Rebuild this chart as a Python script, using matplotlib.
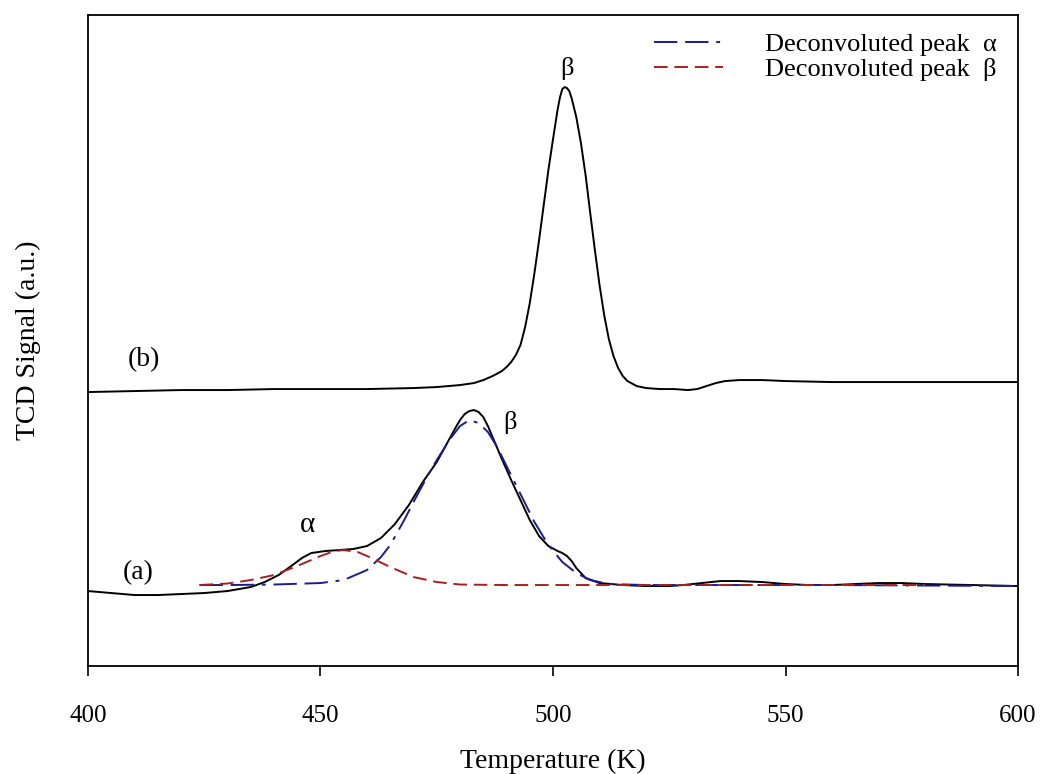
import matplotlib.pyplot as plt

plt.rcParams['font.family'] = ['Liberation Serif', 'DejaVu Serif']

# curve (b), upper trace
temp_b = [400, 410, 420, 430, 440, 450, 460, 470, 475, 480, 483, 485, 487, 489,
          490, 491, 492, 493, 494, 495, 496, 497, 498, 499, 500, 500.5, 501,
          501.5, 502, 502.5, 503, 503.5, 504, 505, 506, 507, 508, 509, 510, 511,
          512, 513, 514, 515, 516, 518, 520, 523, 526, 529, 531, 533, 535, 537,
          540, 545, 550, 560, 570, 580, 590, 600]
sig_b = [273, 274, 275, 275, 276, 276, 276, 277, 278, 280, 282, 285, 289, 294,
         298, 303, 310, 320, 338, 362, 392, 425, 460, 495, 526, 541, 556,
         568, 576, 578, 577, 574, 567, 548, 522, 490, 452, 415, 380, 350,
         326, 309, 297, 289, 284, 279, 277, 276, 276, 275, 276, 279, 282, 284,
         285, 285, 284, 283, 283, 283, 283, 283]

# curve (a), lower trace
temp_a = [400, 405, 410, 415, 420, 425, 430, 435, 438, 441, 444, 446, 448, 451,
          454, 457, 460, 463, 466, 469, 472, 475, 477, 479, 480, 481, 482, 483,
          484, 485, 486, 487, 489, 491, 493, 495, 497, 499, 501, 502, 503, 504,
          505, 507, 510, 515, 520, 525, 528, 532, 536, 540, 545, 550, 555, 560,
          565, 570, 575, 580, 590, 600]
sig_a = [74, 72, 70, 70, 71, 72, 74, 78, 83, 90, 100, 107, 112, 114,
         115, 116, 119, 127, 141, 160, 183, 203, 220, 237, 245, 251, 254, 255,
         253, 248, 239, 228, 206, 185, 165, 145, 129, 119, 114, 112, 109, 104,
         97, 87, 82, 80, 79, 79, 80, 82, 84, 84, 83, 81, 80, 80,
         81, 82, 82, 81, 80, 79]

# deconvoluted peaks of (a)
temp_pa = [424, 430, 440, 450, 455, 460, 463, 465, 468, 470, 473, 475, 478, 480,
           482, 484, 486, 488, 490, 493, 496, 499, 502, 505, 508, 512, 520, 560,
           600]
sig_pa = [80, 80, 80.5, 82, 85, 95, 108, 120, 145, 163, 189, 205, 227, 239,
          245, 242, 233, 218, 199, 171, 143, 120, 103, 92, 85, 81, 80, 80,
          79]

temp_pb = [424, 430, 435, 440, 445, 450, 453, 455, 458, 461, 465, 470, 475, 480,
           490, 540, 580]
sig_pb = [80, 81.5, 85, 90, 99, 109, 114, 115, 113, 107, 98, 88, 83, 80.5,
          80, 80, 80]

fig = plt.figure(figsize=(10.41, 7.74), dpi=100)
ax = fig.add_axes([0.0845, 0.1395, 0.8935, 0.8410])

ax.plot(temp_b, sig_b, color='black', lw=1.4)
ax.plot(temp_a, sig_a, color='black', lw=1.4)
ax.plot(temp_pa, sig_pa, color='#1c1c8f', lw=1.4, dashes=[12, 4, 12, 4, 2, 4],
        label='Deconvoluted peak  α')
ax.plot(temp_pb, sig_pb, color='#a52020', lw=1.4, dashes=[7, 3.5],
        label='Deconvoluted peak  β')

ax.text(412, 305, '(b)', fontsize=20, ha='center', va='center')
ax.text(410.8, 92, '(a)', fontsize=20, ha='center', va='center')
ax.text(447.3, 140, 'α', fontsize=21, ha='center', va='center')
ax.text(490.8, 243, 'β', fontsize=19, ha='center', va='center')
ax.text(503, 597, 'β', fontsize=19, ha='center', va='center')

ax.legend(loc='upper right', frameon=False, fontsize=19, handlelength=2.6,
          handletextpad=1.6, labelspacing=0.05, borderaxespad=0.4,
          bbox_to_anchor=(1.0, 1.005))

ax.set_xlim(400, 600)
ax.set_ylim(-1, 650)
ax.set_xticks([400, 450, 500, 550, 600])
ax.set_yticks([])
ax.tick_params(axis='x', direction='out', length=7, width=1.2, labelsize=18, pad=21)
for s in ax.spines.values():
    s.set_linewidth(1.3)

ax.set_xlabel('Temperature (K)', fontsize=20, labelpad=16)
ax.set_ylabel('TCD Signal (a.u.)', fontsize=20, labelpad=34)

fig.savefig('out.png', dpi=100)
